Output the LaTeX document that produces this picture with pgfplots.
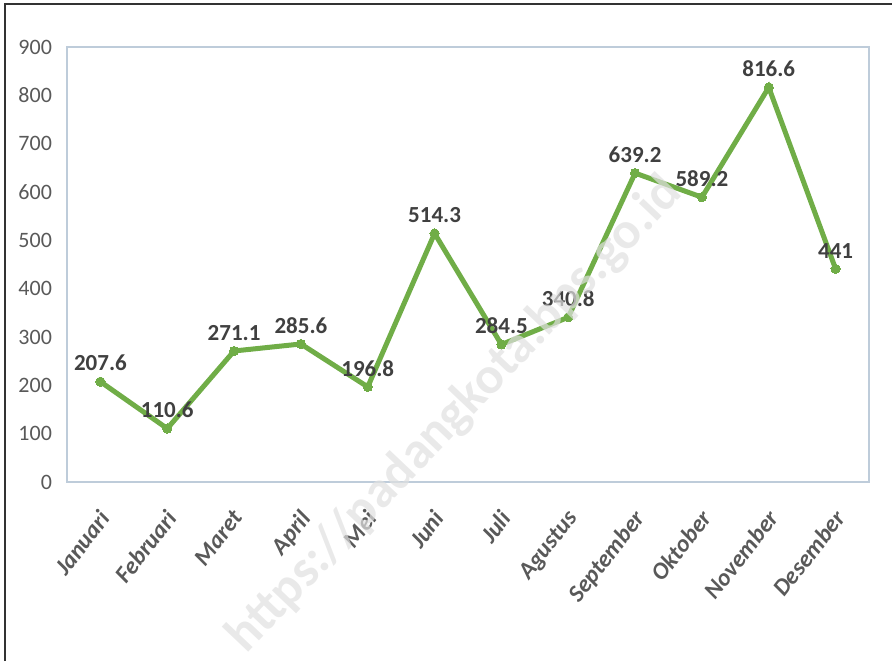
\documentclass[border=0pt]{standalone}
\usepackage{pgfplots}
\pgfplotsset{compat=1.18}
\usepackage{fontspec}
\setmainfont{Carlito}
\definecolor{exgreen}{RGB}{112,173,71}
\definecolor{boxc}{RGB}{190,204,218}
\definecolor{tickc}{RGB}{89,89,89}
\definecolor{labc}{RGB}{64,64,64}
\begin{document}
\begin{tikzpicture}
\useasboundingbox (0,0) rectangle (446pt,330.5pt);
\draw[color=black!80, line width=0.7pt] (2.5pt,0) -- (2.5pt,328.5pt) -- (446pt,328.5pt);
\begin{axis}[
  at={(33.5pt,89.5pt)}, anchor=south west,
  width=401pt, height=217.5pt, scale only axis,
  xmin=-0.5, xmax=11.5, ymin=0, ymax=900,
  axis line style={boxc, line width=0.6pt},
  xtick={0,...,11},
  xticklabels={Januari,Februari,Maret,April,Mei,Juni,Juli,Agustus,September,Oktober,November,Desember},
  ytick={0,100,...,900},
  major tick length=0pt,
  tick style={draw=none},
  /pgf/number format/assume math mode=true,
  yticklabel style={font=\fontsize{11}{13}\selectfont, text=tickc, xshift=-4pt},
  xticklabel style={font=\fontsize{12}{14}\selectfont\bfseries\itshape, text=tickc, rotate=52, anchor=north east, inner sep=1pt, yshift=-6pt, xshift=-10pt},
  clip=false,
  nodes near coords,
  point meta=explicit symbolic,
  every node near coord/.append style={font=\fontsize{11.5}{13}\selectfont\bfseries, text=labc, anchor=south, yshift=2pt},
]
\addplot[exgreen, line width=2.5pt, mark=*, mark size=2.3pt, mark options={fill=exgreen, draw=exgreen, line width=0pt}]
  table[meta=lab] {
x y lab
0 207.6 207.6
1 110.6 110.6
2 271.1 271.1
3 285.6 285.6
4 196.8 196.8
5 514.3 514.3
6 284.5 284.5
7 340.8 340.8
8 639.2 639.2
9 589.2 589.2
10 816.6 816.6
11 441 441
};
\end{axis}
\node[rotate=46.5, text=black!12, opacity=0.7, font=\fontsize{26}{28}\selectfont\bfseries] at (227.5pt,123pt) {https://padangkota.bps.go.id};
\end{tikzpicture}
\end{document}
